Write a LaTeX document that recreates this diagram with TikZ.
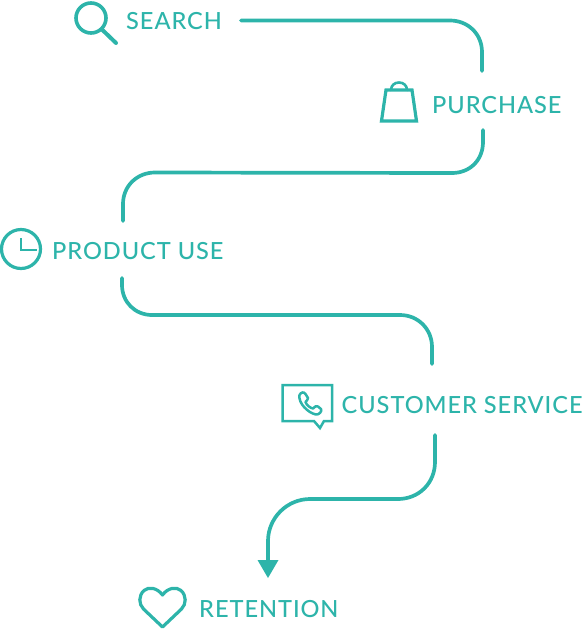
\documentclass[tikz,border=0pt]{standalone}
\usepackage{fontspec}
\setmainfont[LetterSpace=4]{Lato Medium}
\definecolor{teal1}{HTML}{2DB4AA}
\tikzset{
  x=1pt,y=-1pt,
  flow/.style={draw=teal1,line width=3.7pt,line cap=round},
  icon/.style={draw=teal1,line width=3pt,line join=round,line cap=round},
  thinicon/.style={draw=teal1,line width=2.5pt,line join=round,line cap=round},
  lbl/.style={text=teal1,anchor=base west,inner sep=0pt,font=\fontsize{23.6}{25}\selectfont},
}
\begin{document}
\begin{tikzpicture}
\useasboundingbox (0,0) rectangle (583,630);
% labels
\node[lbl] (search) at (126,29.7) {SEARCH};
\node[lbl] (purchase) at (432,113) {PURCHASE};
\node[lbl] (use) at (52,259.7) {PRODUCT USE};
\node[lbl] (service) at (341.5,413.7) {CUSTOMER SERVICE};
\node[lbl] (retention) at (199,617) {RETENTI\kern0.8pt O\kern0.8pt N};
% connector ends
\coordinate (a1) at (241,20.5);
\coordinate (a2) at (482,71);
\coordinate (b1) at (483,130);
\coordinate (b2) at (123,221);
\coordinate (c1) at (122,278);
\coordinate (c2) at (432,364);
\coordinate (d1) at (435,435);
\coordinate (d2) at (268,562);
\coordinate (tip) at (268,578);
% connectors
\draw[flow] (a1) -- (450,20.5) .. controls (468,20.5) and (482,34) .. (482,52) -- (a2);
\draw[flow] (b1) -- (483,142) .. controls (483,160) and (470,173) .. (452,173) -- (155,172.5) .. controls (137,172.5) and (123,186) .. (123,204) -- (b2);
\draw[flow] (c1) -- (122,285) .. controls (122,302) and (135,315) .. (152,315) -- (400,315) .. controls (418,315) and (432,329) .. (432,347) -- (c2);
\draw[flow] (d1) -- (435,462) .. controls (435,483) and (419,499) .. (398,499) -- (310,499) .. controls (287,499) and (268,518) .. (268,541) -- (d2);
\fill[teal1] (257.5,560) -- (278.5,560) -- (tip) -- cycle;
% search icon
\draw[icon,line width=3.6pt] (91,18) circle (15);
\draw[icon,line width=4pt] (102.5,30) -- (116,43);
% bag icon
\draw[icon,line width=3.2pt,line cap=butt,line join=miter] (386,90) -- (412,90) -- (416.5,121) -- (381.5,121) -- cycle;
\draw[icon,line width=2.6pt] (391,90) .. controls (391,80) and (407,80) .. (407,90);
% clock icon
\draw[icon,line width=3.2pt] (21,249) circle (19.5);
\draw[icon,line width=2.8pt,line cap=butt,line join=miter] (21,238) -- (21,250) -- (37,250);
% speech bubble icon
\draw[thinicon,line join=miter] (282.5,385) -- (332,385) -- (332,421) -- (324,421) -- (320,428) -- (314,421) -- (282.5,421) -- cycle;
\draw[thinicon] (299.5,395) .. controls (301,392) and (304,391.5) .. (305.5,394) -- (308,398) .. controls (308.5,400) and (306,400.5) .. (305.5,402) .. controls (306.5,405) and (310,408) .. (313,408.5) .. controls (315,407) and (316,405) .. (318,406.5) -- (321,409) .. controls (322.5,411) and (319,415) .. (316,414.5) .. controls (308,413) and (298,403) .. (299.5,395) -- cycle;
% heart icon
\draw[icon,line width=3.2pt] (162.5,595) .. controls (157,587.5) and (148.5,586.5) .. (144,590.5) .. controls (138.5,595.5) and (138.5,604) .. (143.5,609) -- (162.5,627) -- (181.5,609) .. controls (186.5,604) and (186.5,595.5) .. (181,590.5) .. controls (176.5,586.5) and (168,587.5) .. (162.5,595) -- cycle;
\end{tikzpicture}
\end{document}
